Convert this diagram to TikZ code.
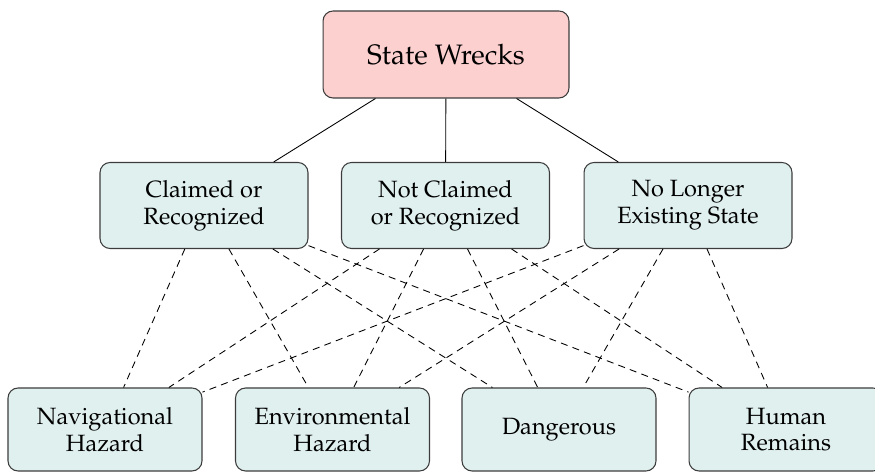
\documentclass[tikz,border=0pt]{standalone}
\usepackage[T1]{fontenc}
\usepackage{mathpazo}
\definecolor{rootfill}{RGB}{253,208,208}
\definecolor{leaffill}{RGB}{224,240,239}
\definecolor{boxline}{RGB}{60,60,60}
\tikzset{
  basebox/.style={draw=boxline, line width=0.6pt, rounded corners=0.2cm, align=center, inner sep=0pt},
  rootbox/.style={basebox, fill=rootfill, minimum width=4.92cm, minimum height=1.74cm, font=\fontsize{16}{19}\selectfont},
  midbox/.style={basebox, fill=leaffill, minimum width=4.16cm, minimum height=1.72cm, font=\fontsize{13.4}{15.2}\selectfont},
  lowbox/.style={basebox, fill=leaffill, minimum width=3.88cm, minimum height=1.66cm, font=\fontsize{13.4}{15.2}\selectfont},
  solidlink/.style={draw=black, line width=0.5pt},
  dashlink/.style={draw=black, line width=0.5pt, dash pattern=on 4pt off 3pt}
}
\begin{document}
\begin{tikzpicture}[x=0.02cm, y=-0.02cm]
\useasboundingbox (0,0) rectangle (875,472);
\node[rootbox] (root) at (446,54.5) {State Wrecks};
\node[midbox] (m1) at (204,205.5) {Claimed or\\Recognized};
\node[midbox] (m2) at (445.5,205.5) {Not Claimed\\or Recognized};
\node[midbox] (m3) at (688,205.5) {No Longer\\Existing State};
\node[lowbox] (b1) at (105,429.5) {Navigational\\Hazard};
\node[lowbox] (b2) at (332.5,429.5) {Environmental\\Hazard};
\node[lowbox] (b3) at (559,429.5) {Dangerous};
\node[lowbox] (b4) at (786,429.5) {Human\\Remains};
\foreach \m in {m1,m2,m3} {
  \draw[solidlink] (root) -- (\m);
  \foreach \b in {b1,b2,b3,b4} {
    \draw[dashlink] (\m) -- (\b);
  }
}
\end{tikzpicture}
\end{document}
